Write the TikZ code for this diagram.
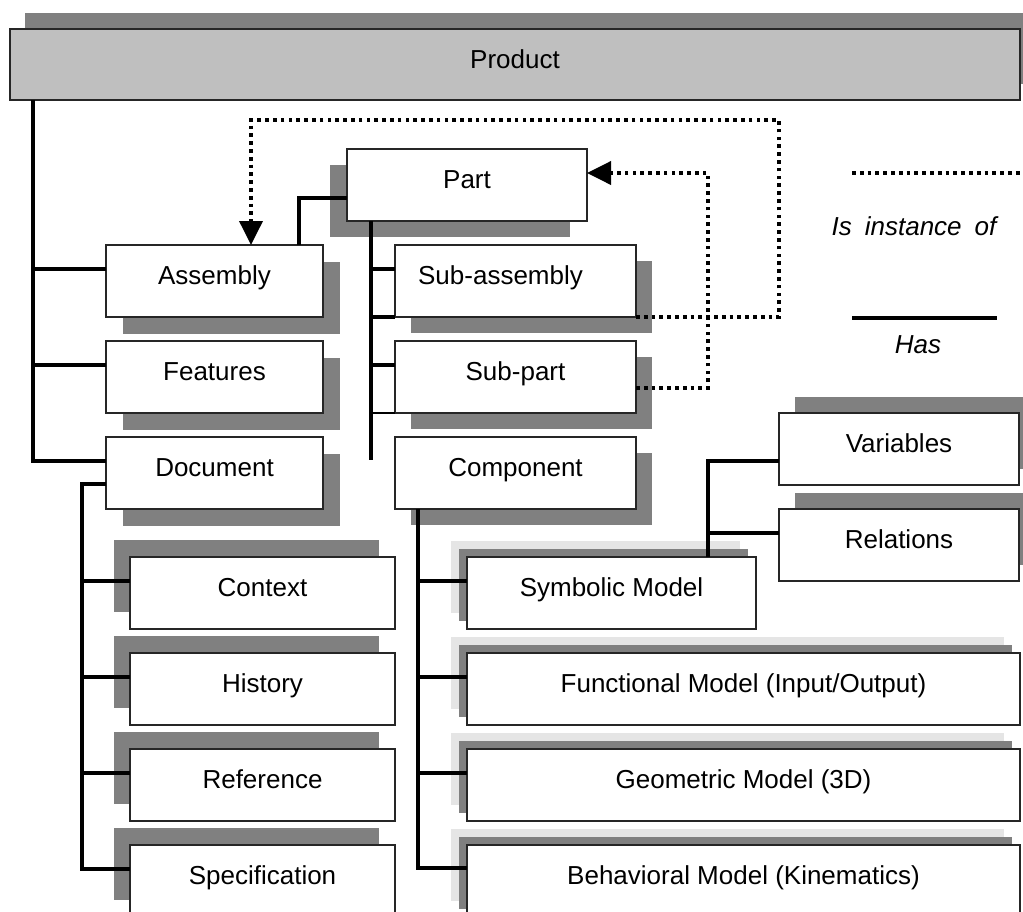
\documentclass[tikz,border=0pt]{standalone}
\usepackage{fontspec}
\setmainfont{Liberation Sans}
\usepackage{tikz}
\usetikzlibrary{positioning}
\usetikzlibrary{arrows.meta}
\usetikzlibrary{shadows}

\begin{document}
\begin{tikzpicture}[x=1pt, y=-1pt, node distance=24pt,
  every node/.style={font=\fontsize{26}{30}\selectfont, inner sep=0pt, outer sep=0pt, text height=19pt, text depth=12pt},
  box/.style={draw=black!85, line width=1.5pt, fill=white, minimum height=72pt},
  shade/.style 2 args={general shadow={fill=black!50, shadow xshift=#1, shadow yshift=#2}},
  twoshade/.style={general shadow={fill=black!10, shadow xshift=-16pt, shadow yshift=16pt},
                   general shadow={fill=black!50, shadow xshift=-8pt, shadow yshift=8pt}},
  has/.style={line width=4.5pt},
  inst/.style={line width=3.7pt, dash pattern=on 3.7pt off 4.1pt},
  tip/.style={-{Triangle[length=24pt, width=23pt]}},
  keytext/.style={font=\fontsize{26}{30}\selectfont\itshape, text height=, text depth=}]
\useasboundingbox (0,0) rectangle (1023,911);

\node[box, fill=black!25, shade={15pt}{16pt}, minimum width=1010pt, minimum height=71pt] (product) at (515,64.5) {Product};

\node[box, shade={-17pt}{-16pt}, minimum width=240pt] (part) at (467,185) {Part};

\node[box, shade={17pt}{-17pt}, minimum width=217pt] (assembly) at (214.5,281) {Assembly};
\node[box, shade={17pt}{-17pt}, minimum width=217pt, below=of assembly] (features) {Features};
\node[box, shade={17pt}{-17pt}, minimum width=217pt, below=of features] (document) {Document};

\node[box, shade={16pt}{-16pt}, minimum width=241pt] (subassembly) at (515.5,281) {Sub-assembly\hspace*{30pt}};
\node[box, shade={16pt}{-16pt}, minimum width=241pt, below=of subassembly] (subpart) {Sub-part};
\node[box, shade={16pt}{-16pt}, minimum width=241pt, below=of subpart] (component) {Component};

\node[box, shade={-16pt}{17pt}, minimum width=265pt] (context) at (262.5,593) {Context};
\node[box, shade={-16pt}{17pt}, minimum width=265pt, below=of context] (history) {History};
\node[box, shade={-16pt}{17pt}, minimum width=265pt, below=of history] (reference) {Reference};
\node[box, shade={-16pt}{17pt}, minimum width=265pt, below=of reference] (specification) {Specification};

\node[box, shade={16pt}{16pt}, minimum width=240pt] (variables) at (899,449) {Variables};
\node[box, shade={16pt}{16pt}, minimum width=240pt, below=of variables] (relations) {Relations};

\node[box, twoshade, minimum width=289pt] (symbolic) at (611.5,593) {Symbolic Model};
\node[box, twoshade, minimum width=553pt] (functional) at (743.5,689) {Functional Model (Input/Output)};
\node[box, twoshade, minimum width=553pt, below=of functional] (geometric) {Geometric Model (3D)};
\node[box, twoshade, minimum width=553pt, below=of geometric] (behavioral) {Behavioral Model (Kinematics)};

\coordinate (prodtrunk) at ([xshift=23pt]product.south west);
\draw[has] (prodtrunk) |- ([yshift=12pt]document.west);
\foreach \n in {assembly,features}
  \draw[has] ([yshift=12pt]\n.west) -| (prodtrunk);

\draw[has] ([xshift=-24pt]assembly.north east) |- ([yshift=-13pt]part.west);

\coordinate (parttrunk) at ([xshift=24pt]part.south west);
\coordinate (partend) at ([yshift=13pt]component.west);
\draw[has] (parttrunk) -- (parttrunk |- partend);
\foreach \n in {subassembly,subpart}
  \draw[has] ([yshift=12pt]\n.west) -| (parttrunk);
\draw[has] (subassembly.south west) -| (parttrunk);
\draw[line width=1.5pt] (subpart.south west) -- (subpart.south west -| parttrunk);

\coordinate (doctrunk) at ([xshift=-24pt,yshift=-11pt]document.west);
\draw[has] ([yshift=-11pt]document.west) -- (doctrunk) |- ([yshift=12pt]specification.west);
\foreach \n in {context,history,reference}
  \draw[has] ([yshift=12pt]\n.west) -| (doctrunk);

\coordinate (comptrunk) at ([xshift=23pt]component.south west);
\draw[has] (comptrunk) |- ([yshift=13pt]behavioral.west);
\foreach \n in {symbolic,functional,geometric}
  \draw[has] ([yshift=12pt]\n.west) -| (comptrunk);

\coordinate (symtrunk) at ([xshift=-48pt]symbolic.north east);
\draw[has] (symtrunk) |- ([yshift=-12pt]variables.west);
\draw[has] ([yshift=12pt]relations.west) -| (symtrunk);

\coordinate (loopa) at (779,120);
\coordinate (loopb) at (708,173);
\draw[inst, tip] (subassembly.south east) -| (loopa) -| ([xshift=36.5pt]assembly.north);
\draw[inst, tip] ([yshift=-11pt]subpart.east) -| (loopb) -- ([yshift=12pt]part.east);

\coordinate (keya) at (852,173);
\coordinate (keyb) at (1021,173);
\coordinate (keyc) at (852,318);
\coordinate (keyd) at (997,318);
\draw[inst] (keya) -- (keyb);
\node[keytext, anchor=base] (instlabel) at (914,235) {Is\hspace{13pt}instance\hspace{13pt}of};
\draw[has] (keyc) -- (keyd);
\node[keytext, anchor=base] (haslabel) at (918,353) {Has};
\end{tikzpicture}
\end{document}
